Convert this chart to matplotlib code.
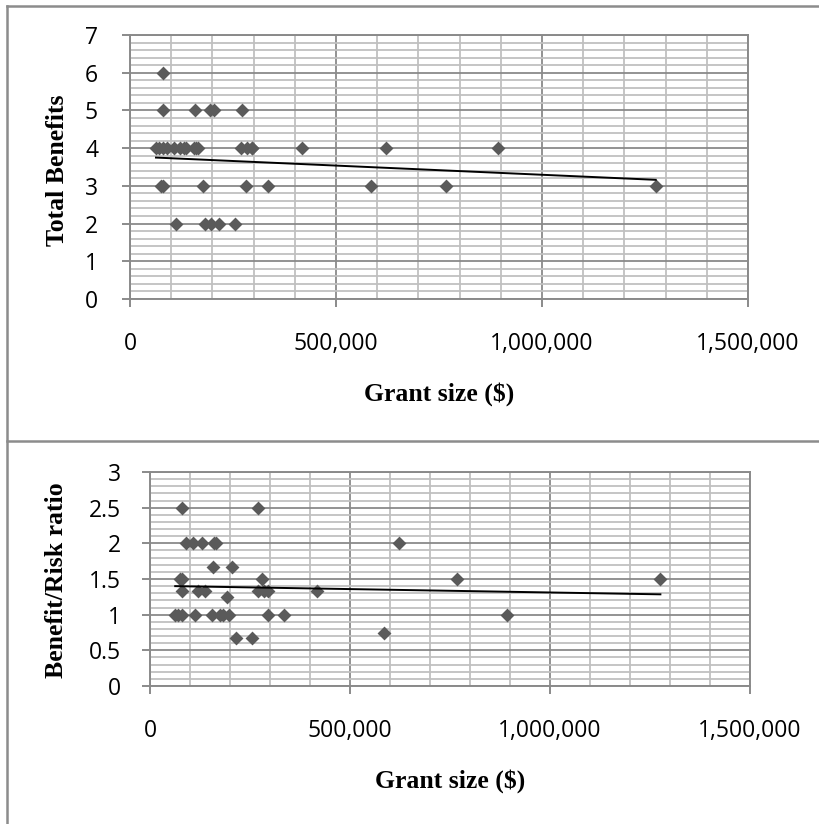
import numpy as np
import matplotlib
matplotlib.use("Agg")
import matplotlib.pyplot as plt
from matplotlib.ticker import MultipleLocator, FuncFormatter
from matplotlib.lines import Line2D

# ---------------- data ----------------
grant = [63000, 71000, 75000, 80000, 80000, 79000, 81000, 89000, 107000, 112000,
         121000, 130000, 137000, 157000, 156000, 160000, 165000, 176000, 182000, 193000,
         197000, 205000, 215000, 256000, 269000, 271000, 281000, 284000, 296000, 296000,
         335000, 418000, 586000, 622000, 768000, 892000, 1276000]
total_benefits = [4, 4, 3, 5, 6, 3, 4, 4, 4, 2,
                  4, 4, 4, 5, 4, 4, 4, 3, 2, 5,
                  2, 5, 2, 2, 4, 5, 3, 4, 4, 4,
                  3, 4, 3, 4, 3, 4, 3]
benefit_risk = [1.0, 1.0, 1.5, 2.5, 1.5, 1.0, 1.333, 2.0, 2.0, 1.0,
                1.333, 2.0, 1.333, 1.667, 1.0, 2.0, 2.0, 1.0, 1.0, 1.25,
                1.0, 1.667, 0.667, 0.667, 1.333, 2.5, 1.5, 1.333, 1.333, 1.0,
                1.0, 1.333, 0.75, 2.0, 1.5, 1.0, 1.5]
# linear trendline values at smallest and largest grant
benefits_trend = [3.75, 3.16]
ratio_trend = [1.40, 1.285]

x_ticks = [0, 500000, 1000000, 1500000]
x_label = "Grant size ($)"
top_ylabel = "Total Benefits"
bot_ylabel = "Benefit/Risk ratio"

# ---------------- style ----------------
W, H = 820, 824
DPI = 100
MAJOR = "#8a8a8a"
MINOR = "#c0c0c0"
MARK = "#5a5a5a"
TICKFONT = "Open Sans"
TITLEFONT = "Liberation Serif"

fig = plt.figure(figsize=(W / DPI, H / DPI), dpi=DPI)
fig.patch.set_facecolor("white")


def px_axes(l, t, r, b):
    return fig.add_axes([l / W, 1 - b / H, (r - l) / W, (b - t) / H])


def style(ax, ymax, ymajor, yminor, xs, ys, trend, pad_y):
    ax.scatter(xs, ys, marker="D", s=50, color=MARK, linewidths=0, zorder=3)
    ax.plot([min(xs), max(xs)], trend, color="black", lw=1.4, zorder=4)

    ax.set_xlim(0, 1500000)
    ax.set_ylim(0, ymax)
    ax.set_xticks(x_ticks)
    ax.xaxis.set_minor_locator(MultipleLocator(100000))
    ax.yaxis.set_major_locator(MultipleLocator(ymajor))
    ax.yaxis.set_minor_locator(MultipleLocator(yminor))
    ax.xaxis.set_major_formatter(FuncFormatter(lambda v, p: f"{v:,.0f}"))
    ax.yaxis.set_major_formatter(FuncFormatter(lambda v, p: f"{v:g}"))
    ax.grid(which="minor", color=MINOR, lw=1.3, zorder=0)
    ax.grid(which="major", color=MAJOR, lw=1.3, zorder=1)
    ax.set_axisbelow(True)
    for s in ax.spines.values():
        s.set_color(MAJOR)
        s.set_linewidth(1.4)
    ax.tick_params(which="major", direction="out", length=6, width=1.4,
                   color=MAJOR, labelsize=16.5, labelcolor="black")
    ax.tick_params(axis="x", which="major", pad=18)
    ax.tick_params(axis="y", which="major", pad=pad_y)
    ax.tick_params(which="minor", length=0)
    for lab in ax.get_xticklabels() + ax.get_yticklabels():
        lab.set_fontfamily(TICKFONT)


ax1 = px_axes(130, 35, 748, 299)
style(ax1, 7, 1, 0.2, grant, total_benefits, benefits_trend, 17)
ax2 = px_axes(150, 472, 750, 686)
style(ax2, 3, 0.5, 0.1, grant, benefit_risk, ratio_trend, 15)

tkw = dict(fontfamily=TITLEFONT, fontweight="bold", fontsize=18.5, color="black")
fig.text(439 / W, 1 - 394 / H, x_label, ha="center", va="center", **tkw)
fig.text(58 / W, 1 - 170 / H, top_ylabel, ha="center", va="center", rotation=90, **tkw)
fig.text(450 / W, 1 - 781 / H, x_label, ha="center", va="center", **tkw)
fig.text(57 / W, 1 - 580 / H, bot_ylabel, ha="center", va="center", rotation=90, **tkw)

# outer frame lines
fkw = dict(color="#8c8c8c", lw=1.8, transform=fig.transFigure, figure=fig)
fig.lines.append(Line2D([7 / W, 7 / W], [0, 1 - 6 / H], **fkw))
fig.lines.append(Line2D([7 / W, 1], [1 - 6 / H, 1 - 6 / H], **fkw))
fig.lines.append(Line2D([7 / W, 1], [1 - 441 / H, 1 - 441 / H], **fkw))

fig.savefig("out.png", dpi=DPI, facecolor="white")
